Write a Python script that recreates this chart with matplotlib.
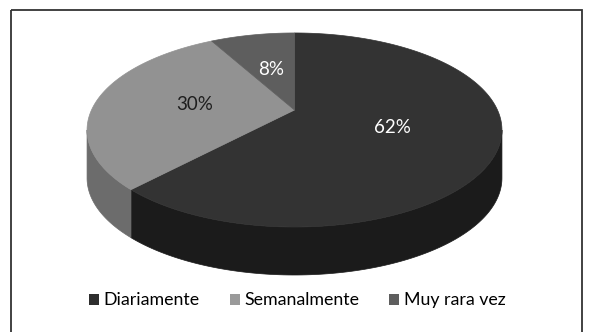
import numpy as np
import matplotlib
matplotlib.use("Agg")
import matplotlib.pyplot as plt
from matplotlib.patches import Polygon, Rectangle, Patch

plt.rcParams['font.family'] = ['Lato', 'DejaVu Sans']

# frecuencia de uso
categorias = ["Diariamente", "Semanalmente", "Muy rara vez"]
porcentajes = [62, 30, 8]
color_cara = ["#333333", "#929292", "#5e5e5e"]
color_lado = ["#1b1b1b", "#6c6c6c", "#454545"]
color_leyenda = ["#2e2e2e", "#9a9a9a", "#5e5e5e"]
color_texto = ["white", "#1e1e1e", "white"]

# geometria del pastel 3D (pixeles)
cx, cy = 294.5, 110.0
A, B, k = 203.0, 92.9, 0.206
grosor = 48.0


def proyectar(theta, f=1.0, dz=0.0):
    t = np.radians(theta)
    u = f * np.sin(t)
    w = f * np.cos(t)
    d = 1.0 / (1.0 + k * w)
    return cx + A * u * d, cy - B * w * d + dz


fig = plt.figure(figsize=(5.89, 3.32), dpi=100)
ax = fig.add_axes([0, 0, 1, 1])
ax.set_xlim(0, 589)
ax.set_ylim(332, 0)
ax.axis("off")

ax.add_patch(Rectangle((11, 10), 571, 340, fill=False, ec="#333333",
                       lw=1.3, clip_on=False))

total = float(sum(porcentajes))
angulos = np.cumsum([0] + [p / total * 360 for p in porcentajes])

# limites visibles del lateral
t1 = np.degrees(np.arccos(-k))
t2 = 360 - t1

# laterales
for i in range(len(porcentajes)):
    a0, a1 = max(angulos[i], t1), min(angulos[i + 1], t2)
    if a1 <= a0:
        continue
    th = np.linspace(a0, a1, 120)
    xs, ys = proyectar(th)
    arriba = np.column_stack([xs, ys])
    abajo = np.column_stack([xs, ys + grosor])[::-1]
    ax.add_patch(Polygon(np.vstack([arriba, abajo]), closed=True,
                         fc=color_lado[i], ec=color_lado[i], lw=0.5))

# caras superiores
for i in range(len(porcentajes)):
    th = np.linspace(angulos[i], angulos[i + 1], 200)
    xs, ys = proyectar(th)
    pts = np.vstack([[cx, cy], np.column_stack([xs, ys])])
    ax.add_patch(Polygon(pts, closed=True, fc=color_cara[i],
                         ec=color_cara[i], lw=0.5))

# etiquetas de porcentaje
for i, p in enumerate(porcentajes):
    medio = (angulos[i] + angulos[i + 1]) / 2
    x, y = proyectar(medio, 0.5)
    ax.text(x, y, f"{p}%", color=color_texto[i], fontsize=13.5,
            ha="center", va="center")

handles = [Patch(fc=c, ec="none") for c in color_leyenda]
ax.legend(handles, categorias, loc="center", bbox_to_anchor=(0.505, 0.095),
          ncol=3, frameon=False, fontsize=12.8, handlelength=0.55,
          handleheight=0.55, handletextpad=0.25, columnspacing=1.7)

fig.savefig("out.png", dpi=100)
